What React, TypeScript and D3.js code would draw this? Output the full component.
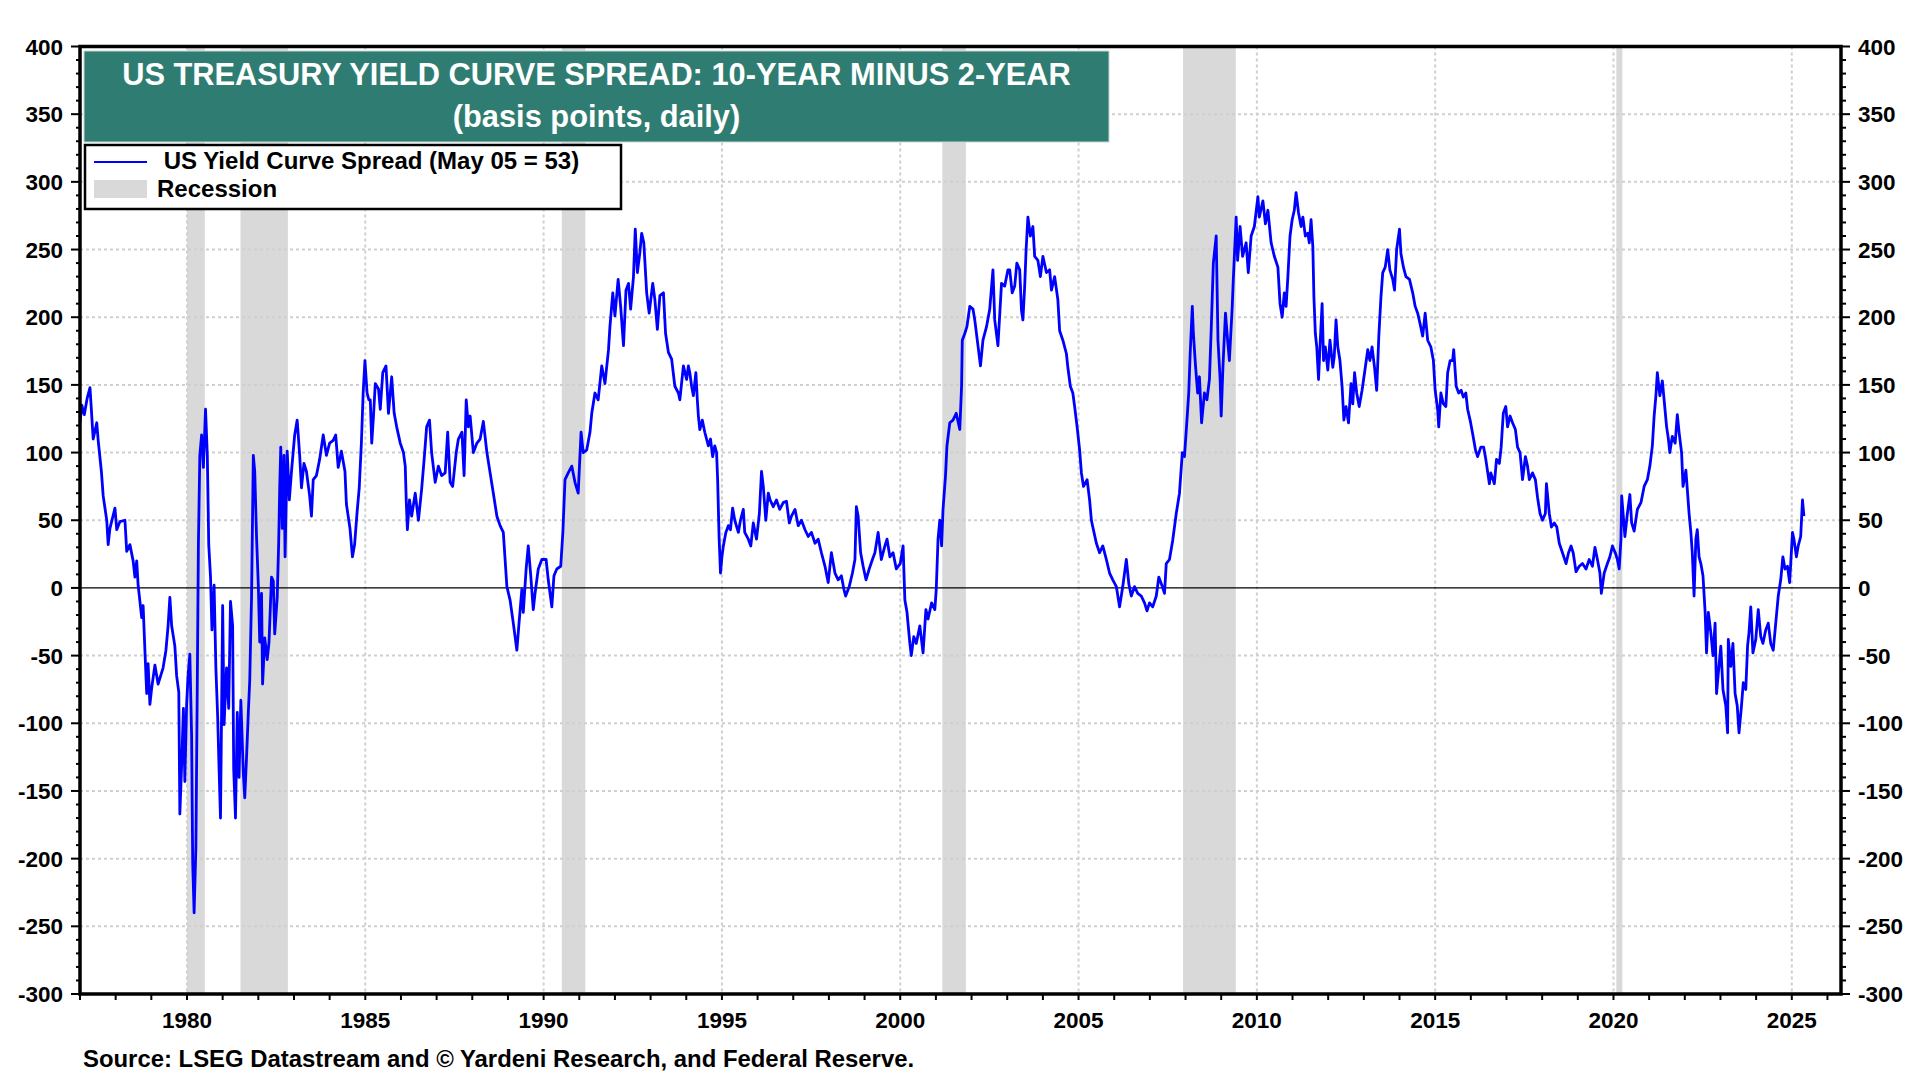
import React from "react";
import * as d3 from "d3";

// ---------- DATA ----------
const yTicks = [-300, -250, -200, -150, -100, -50, 0, 50, 100, 150, 200, 250, 300, 350, 400];
const xTickYears = [1980, 1985, 1990, 1995, 2000, 2005, 2010, 2015, 2020, 2025];

const recessions: [number, number][] = [
  [1980.0, 1980.5],
  [1981.5, 1982.83],
  [1990.51, 1991.17],
  [2001.18, 2001.84],
  [2007.93, 2009.41],
  [2020.08, 2020.25],
];

// [decimal year, spread in basis points]
const spread1977to1985: [number, number][] = [
  [1977.0, 122], [1977.05, 135], [1977.12, 128], [1977.2, 140], [1977.28, 148], [1977.37, 110], [1977.47, 122],
  [1977.51, 109], [1977.6, 86], [1977.65, 68], [1977.75, 50], [1977.79, 32], [1977.84, 44], [1977.98, 59],
  [1978.03, 43], [1978.12, 49], [1978.26, 50], [1978.31, 27], [1978.4, 32], [1978.49, 20], [1978.54, 8],
  [1978.59, 20], [1978.63, 2], [1978.68, -10], [1978.73, -22], [1978.77, -13], [1978.82, -46], [1978.87, -78],
  [1978.91, -56], [1978.96, -86], [1979.01, -74], [1979.1, -57], [1979.19, -71], [1979.33, -59], [1979.41, -46],
  [1979.47, -28], [1979.52, -7], [1979.57, -28], [1979.66, -43], [1979.71, -65], [1979.77, -77], [1979.8, -167],
  [1979.85, -131], [1979.9, -89], [1979.94, -143], [1979.99, -86], [1980.03, -65], [1980.08, -49], [1980.13, -110],
  [1980.16, -203], [1980.2, -240], [1980.25, -191], [1980.29, -68], [1980.32, 32], [1980.36, 98], [1980.41, 113],
  [1980.46, 89], [1980.52, 132], [1980.57, 98], [1980.61, 32], [1980.66, 8], [1980.7, -31], [1980.76, 2],
  [1980.81, -59], [1980.86, -95], [1980.9, -134], [1980.94, -170], [1981.0, -13], [1981.04, -101], [1981.11, -59],
  [1981.17, -89], [1981.22, -10], [1981.28, -28], [1981.31, -134], [1981.36, -170], [1981.41, -92], [1981.46, -140],
  [1981.51, -83], [1981.58, -137], [1981.62, -155], [1981.67, -125], [1981.72, -92], [1981.76, -68], [1981.81, -7],
  [1981.86, 98], [1981.9, 86], [1981.95, 38], [1982.0, 2], [1982.04, -40], [1982.09, -4], [1982.12, -71],
  [1982.18, -37], [1982.25, -53], [1982.3, -40], [1982.37, 8], [1982.42, 5], [1982.46, -34], [1982.53, -7],
  [1982.57, 32], [1982.6, 74], [1982.63, 104], [1982.67, 44], [1982.72, 98], [1982.75, 23], [1982.81, 101],
  [1982.87, 65], [1982.93, 86], [1982.98, 101], [1983.02, 113], [1983.09, 124], [1983.16, 98], [1983.21, 74],
  [1983.28, 92], [1983.35, 86], [1983.44, 68], [1983.49, 53], [1983.54, 80], [1983.63, 83], [1983.72, 95],
  [1983.82, 113], [1983.91, 98], [1984.0, 107], [1984.1, 109], [1984.17, 113], [1984.24, 89], [1984.33, 101],
  [1984.43, 86], [1984.47, 62], [1984.57, 44], [1984.64, 23], [1984.7, 32], [1984.77, 56], [1984.83, 74],
  [1984.89, 107], [1984.94, 144], [1984.99, 168], [1985.05, 144], [1985.1, 139],
];

const spread1985to1994: [number, number][] = [
  [1985.14, 139], [1985.18, 107], [1985.23, 127], [1985.28, 151], [1985.37, 147], [1985.42, 132], [1985.49, 159],
  [1985.58, 164], [1985.65, 129], [1985.74, 156], [1985.81, 129], [1985.88, 119], [1985.98, 107], [1986.07, 100],
  [1986.12, 90], [1986.15, 63], [1986.18, 43], [1986.24, 65], [1986.3, 53], [1986.4, 70], [1986.49, 50],
  [1986.58, 73], [1986.65, 95], [1986.72, 119], [1986.8, 124], [1986.86, 100], [1986.96, 78], [1987.05, 90],
  [1987.14, 83], [1987.24, 85], [1987.31, 115], [1987.38, 78], [1987.45, 75], [1987.55, 100], [1987.61, 110],
  [1987.71, 115], [1987.77, 83], [1987.83, 139], [1987.89, 119], [1987.94, 127], [1988.03, 100], [1988.13, 107],
  [1988.22, 110], [1988.31, 123], [1988.41, 100], [1988.5, 85], [1988.59, 70], [1988.69, 53], [1988.78, 46],
  [1988.87, 41], [1988.92, 21], [1988.97, 1], [1989.06, -9], [1989.15, -26], [1989.25, -46], [1989.32, -23],
  [1989.39, -1], [1989.43, -18], [1989.51, 14], [1989.57, 31], [1989.64, 9], [1989.71, -16], [1989.76, -4],
  [1989.85, 14], [1989.95, 21], [1990.07, 21], [1990.13, 6], [1990.23, -14], [1990.29, 9], [1990.37, 14],
  [1990.48, 16], [1990.54, 41], [1990.6, 80], [1990.69, 85], [1990.79, 90], [1990.88, 78], [1990.97, 70],
  [1991.05, 115], [1991.11, 100], [1991.21, 102], [1991.3, 115], [1991.35, 129], [1991.44, 144], [1991.53, 139],
  [1991.63, 164], [1991.72, 151], [1991.82, 176], [1991.86, 193], [1991.94, 218], [1992.0, 201], [1992.09, 228],
  [1992.16, 208], [1992.24, 179], [1992.31, 220], [1992.38, 225], [1992.44, 206], [1992.52, 230], [1992.57, 265],
  [1992.63, 233], [1992.7, 248], [1992.75, 262], [1992.81, 255], [1992.89, 218], [1992.96, 203], [1993.06, 225],
  [1993.12, 213], [1993.19, 191], [1993.26, 216], [1993.36, 218], [1993.42, 188], [1993.5, 174], [1993.59, 169],
  [1993.68, 149], [1993.78, 144], [1993.82, 139], [1993.92, 164], [1994.01, 154], [1994.06, 164],
];

const spread1994to2003: [number, number][] = [
  [1994.1, 159], [1994.15, 149], [1994.2, 142], [1994.27, 159], [1994.31, 139], [1994.34, 127], [1994.38, 117],
  [1994.45, 124], [1994.52, 115], [1994.62, 105], [1994.68, 110], [1994.74, 97], [1994.8, 105], [1994.85, 100],
  [1994.88, 80], [1994.92, 38], [1994.96, 11], [1995.0, 23], [1995.04, 31], [1995.11, 41], [1995.18, 46],
  [1995.24, 43], [1995.3, 59], [1995.36, 50], [1995.46, 41], [1995.52, 50], [1995.6, 58], [1995.64, 41],
  [1995.74, 36], [1995.81, 31], [1995.88, 48], [1995.97, 36], [1996.05, 55], [1996.11, 86], [1996.16, 75],
  [1996.23, 50], [1996.3, 70], [1996.35, 65], [1996.44, 60], [1996.53, 65], [1996.62, 58], [1996.72, 63],
  [1996.81, 64], [1996.89, 48], [1996.95, 53], [1997.05, 58], [1997.14, 46], [1997.23, 50], [1997.33, 43],
  [1997.42, 38], [1997.51, 41], [1997.61, 33], [1997.7, 36], [1997.79, 26], [1997.89, 16], [1997.98, 4],
  [1998.07, 26], [1998.17, 11], [1998.26, 6], [1998.35, 9], [1998.42, -1], [1998.47, -6], [1998.57, 1],
  [1998.66, 11], [1998.73, 21], [1998.77, 60], [1998.82, 53], [1998.89, 26], [1998.96, 16], [1999.04, 6],
  [1999.13, 14], [1999.22, 21], [1999.29, 26], [1999.38, 41], [1999.47, 21], [1999.57, 31], [1999.63, 36],
  [1999.71, 23], [1999.8, 26], [1999.89, 14], [2000.0, 18], [2000.08, 31], [2000.13, -9], [2000.19, -18],
  [2000.27, -41], [2000.31, -50], [2000.38, -36], [2000.45, -41], [2000.55, -28], [2000.64, -48], [2000.72, -16],
  [2000.78, -23], [2000.88, -11], [2000.97, -16], [2001.01, -1], [2001.06, 36], [2001.11, 50], [2001.16, 31],
  [2001.2, 58], [2001.27, 83], [2001.31, 105], [2001.39, 122], [2001.48, 124], [2001.57, 129], [2001.67, 117],
  [2001.72, 149], [2001.74, 183], [2001.81, 188], [2001.87, 193], [2001.95, 208], [2002.04, 206], [2002.09, 198],
  [2002.18, 179], [2002.25, 164], [2002.32, 183], [2002.42, 193], [2002.51, 206], [2002.6, 235], [2002.65, 198],
  [2002.74, 179], [2002.84, 225], [2002.93, 223], [2003.02, 235],
];

const spread2003to2011: [number, number][] = [
  [2003.07, 235], [2003.14, 218], [2003.21, 223], [2003.27, 240], [2003.35, 235], [2003.4, 205], [2003.44, 198],
  [2003.49, 223], [2003.53, 250], [2003.58, 274], [2003.65, 260], [2003.72, 267], [2003.77, 245], [2003.86, 242],
  [2003.93, 230], [2004.0, 245], [2004.1, 233], [2004.19, 235], [2004.24, 220], [2004.33, 230], [2004.42, 213],
  [2004.47, 190], [2004.56, 183], [2004.66, 173], [2004.7, 163], [2004.77, 149], [2004.84, 144], [2004.89, 134],
  [2004.96, 119], [2005.03, 102], [2005.08, 85], [2005.14, 75], [2005.24, 80], [2005.31, 65], [2005.36, 50],
  [2005.4, 45], [2005.5, 33], [2005.59, 26], [2005.68, 31], [2005.78, 21], [2005.87, 11], [2005.96, 6],
  [2006.06, 1], [2006.15, -14], [2006.24, 1], [2006.34, 21], [2006.41, 3], [2006.48, -6], [2006.57, 1],
  [2006.66, -4], [2006.76, -6], [2006.85, -11], [2006.92, -17], [2006.99, -11], [2007.08, -14], [2007.18, -6],
  [2007.25, 8], [2007.35, 1], [2007.41, -4], [2007.46, 18], [2007.55, 21], [2007.64, 35], [2007.74, 55],
  [2007.83, 70], [2007.91, 100], [2007.97, 97], [2008.04, 124], [2008.09, 144], [2008.13, 173], [2008.19, 208],
  [2008.22, 188], [2008.28, 164], [2008.34, 144], [2008.39, 156], [2008.45, 122], [2008.53, 144], [2008.6, 139],
  [2008.67, 154], [2008.72, 191], [2008.78, 240], [2008.86, 260], [2008.91, 183], [2008.97, 154], [2009.0, 127],
  [2009.05, 164], [2009.12, 203], [2009.18, 183], [2009.23, 168], [2009.31, 208], [2009.34, 228], [2009.42, 274],
  [2009.46, 242], [2009.53, 267], [2009.6, 245], [2009.7, 255], [2009.76, 233], [2009.84, 260], [2009.93, 267],
  [2010.03, 289], [2010.07, 274], [2010.17, 286], [2010.24, 269], [2010.31, 279], [2010.4, 255], [2010.49, 245],
  [2010.59, 237], [2010.65, 210], [2010.71, 200], [2010.77, 218], [2010.82, 208], [2010.87, 230], [2010.93, 260],
  [2010.99, 272], [2011.05, 279], [2011.1, 292], [2011.17, 277],
];

const spread2011to2019: [number, number][] = [
  [2011.24, 267], [2011.29, 274], [2011.36, 260], [2011.43, 262], [2011.47, 255], [2011.52, 272], [2011.57, 252],
  [2011.6, 215], [2011.64, 188], [2011.68, 178], [2011.73, 154], [2011.77, 178], [2011.83, 210], [2011.87, 168],
  [2011.92, 178], [2011.99, 161], [2012.05, 183], [2012.13, 163], [2012.17, 171], [2012.22, 198], [2012.27, 178],
  [2012.33, 168], [2012.39, 149], [2012.44, 124], [2012.5, 134], [2012.57, 122], [2012.64, 151], [2012.69, 136],
  [2012.74, 159], [2012.8, 144], [2012.87, 134], [2012.95, 146], [2013.02, 159], [2013.11, 176], [2013.17, 168],
  [2013.23, 178], [2013.3, 163], [2013.36, 146], [2013.42, 186], [2013.48, 215], [2013.53, 233], [2013.6, 237],
  [2013.67, 250], [2013.73, 235], [2013.81, 228], [2013.86, 220], [2013.92, 250], [2014.0, 265], [2014.04, 247],
  [2014.11, 237], [2014.18, 230], [2014.28, 228], [2014.37, 218], [2014.44, 208], [2014.51, 203], [2014.57, 196],
  [2014.65, 186], [2014.72, 203], [2014.79, 183], [2014.88, 178], [2014.95, 168], [2015.0, 146], [2015.07, 132],
  [2015.1, 119], [2015.16, 144], [2015.23, 136], [2015.3, 134], [2015.35, 159], [2015.42, 168], [2015.49, 168],
  [2015.52, 176], [2015.59, 149], [2015.66, 144], [2015.73, 146], [2015.79, 141], [2015.86, 144], [2015.91, 132],
  [2015.98, 124], [2016.05, 114], [2016.13, 102], [2016.19, 97], [2016.28, 104], [2016.36, 104], [2016.42, 95],
  [2016.52, 77], [2016.56, 85], [2016.66, 77], [2016.72, 95], [2016.8, 92], [2016.85, 104], [2016.91, 129],
  [2016.98, 134], [2017.03, 119], [2017.1, 127], [2017.17, 122], [2017.25, 117], [2017.31, 104], [2017.38, 100],
  [2017.45, 80], [2017.53, 97], [2017.59, 90], [2017.64, 80], [2017.73, 85], [2017.81, 80], [2017.87, 67],
  [2017.94, 55], [2018.01, 50], [2018.09, 55], [2018.12, 77], [2018.2, 55], [2018.26, 45], [2018.34, 48],
  [2018.41, 45], [2018.48, 33], [2018.57, 26], [2018.67, 18], [2018.74, 26], [2018.81, 31], [2018.87, 26],
  [2018.95, 12],
];

const spread2019to2025: [number, number][] = [
  [2019.04, 16], [2019.13, 18], [2019.23, 14], [2019.32, 21], [2019.41, 16], [2019.48, 30], [2019.55, 21],
  [2019.62, 11], [2019.66, -4], [2019.74, 11], [2019.83, 18], [2019.9, 23], [2019.97, 31], [2020.05, 26],
  [2020.11, 21], [2020.16, 14], [2020.21, 36], [2020.23, 68], [2020.27, 55], [2020.32, 38], [2020.39, 55],
  [2020.46, 69], [2020.51, 48], [2020.58, 42], [2020.67, 58], [2020.77, 63], [2020.86, 75], [2020.95, 80],
  [2021.02, 90], [2021.09, 105], [2021.14, 127], [2021.19, 142], [2021.23, 159], [2021.3, 142], [2021.37, 153],
  [2021.42, 139], [2021.49, 119], [2021.54, 110], [2021.58, 100], [2021.65, 112], [2021.73, 107], [2021.79, 128],
  [2021.84, 115], [2021.91, 100], [2021.95, 75], [2022.03, 87], [2022.07, 73], [2022.12, 55], [2022.17, 41],
  [2022.21, 26], [2022.26, -6], [2022.31, 36], [2022.35, 43], [2022.4, 23], [2022.45, 18], [2022.51, 9],
  [2022.57, -18], [2022.61, -48], [2022.66, -18], [2022.73, -33], [2022.79, -50], [2022.85, -26], [2022.89, -78],
  [2022.94, -63], [2023.01, -43], [2023.07, -75], [2023.15, -87], [2023.2, -107], [2023.22, -38], [2023.29, -58],
  [2023.35, -41], [2023.41, -78], [2023.47, -87], [2023.52, -107], [2023.59, -87], [2023.64, -70], [2023.71, -75],
  [2023.76, -43], [2023.8, -33], [2023.85, -14], [2023.91, -48], [2023.99, -38], [2024.06, -16], [2024.13, -36],
  [2024.19, -41], [2024.27, -31], [2024.34, -26], [2024.41, -41], [2024.48, -46], [2024.55, -26], [2024.62, -6],
  [2024.69, 6], [2024.75, 23], [2024.81, 14], [2024.88, 16], [2024.94, 4], [2025.02, 41], [2025.06, 36],
  [2025.13, 23], [2025.18, 31], [2025.25, 38], [2025.3, 65], [2025.34, 53],
];

const titleLine1 = "US TREASURY YIELD CURVE SPREAD: 10-YEAR MINUS 2-YEAR";
const titleLine2 = "(basis points, daily)";
const legendSeries = " US Yield Curve Spread (May 05 = 53)";
const legendRecession = "Recession";
const sourceText = "Source: LSEG Datastream and \u00A9 Yardeni Research, and Federal Reserve.";

// ---------- STYLE ----------
const FONT = "'Liberation Sans', Arial, Helvetica, sans-serif";
const LINE_BLUE = "#0000ff";
const TEAL = "#2f7d72";
const RECESSION_GRAY = "#d9d9d9";
const GRID_GRAY = "#cfcfcf";

export default function App() {
  const W = 1920;
  const H = 1080;
  const left = 80;
  const right = 1841;
  const top = 46.5;
  const bottom = 994;

  const x = d3.scaleLinear().domain([1977, 2026.38]).range([left, right]);
  const y = d3.scaleLinear().domain([-300, 400]).range([bottom, top]);

  const allData = [
    ...spread1977to1985,
    ...spread1985to1994,
    ...spread1994to2003,
    ...spread2003to2011,
    ...spread2011to2019,
    ...spread2019to2025,
  ];
  const line = d3
    .line<[number, number]>()
    .x((d) => x(d[0]))
    .y((d) => y(d[1]));

  const minorY = d3.range(-300, 401, 10);
  const yearTicks = d3.range(1977, 2027, 1);

  return (
    <div style={{ position: "absolute", left: 0, top: 0, width: W, height: H, background: "#fff" }}>
      <svg width={W} height={H} viewBox={`0 0 ${W} ${H}`} style={{ display: "block", fontFamily: FONT }}>
        <rect x={0} y={0} width={W} height={H} fill="#fff" />

        {/* recession bands */}
        {recessions.map(([a, b], i) => (
          <rect key={"r" + i} x={x(a)} y={top} width={x(b) - x(a)} height={bottom - top} fill={RECESSION_GRAY} />
        ))}

        {/* grid */}
        {yTicks
          .filter((v) => v !== 0 && v !== -300 && v !== 400)
          .map((v) => (
            <line key={"gy" + v} x1={left} x2={right} y1={y(v)} y2={y(v)} stroke={GRID_GRAY} strokeWidth={2} strokeDasharray="3,3" />
          ))}
        {xTickYears.map((yr) => (
          <line key={"gx" + yr} x1={x(yr)} x2={x(yr)} y1={top} y2={bottom} stroke={GRID_GRAY} strokeWidth={2} strokeDasharray="3,3" />
        ))}

        {/* zero line */}
        <line x1={left} x2={right} y1={y(0)} y2={y(0)} stroke="#000" strokeWidth={1.2} />

        {/* data line */}
        <path d={line(allData) || ""} fill="none" stroke={LINE_BLUE} strokeWidth={2.8} strokeLinejoin="round" />

        {/* frame */}
        <rect x={left} y={top} width={right - left} height={bottom - top} fill="none" stroke="#000" strokeWidth={3.5} />

        {/* left & right ticks */}
        {minorY.map((v) => {
          const major = v % 50 === 0;
          return (
            <g key={"ty" + v}>
              <line x1={left - (major ? 9 : 4)} x2={left} y1={y(v)} y2={y(v)} stroke="#000" strokeWidth={2} />
              <line x1={right} x2={right + (major ? 9 : 5)} y1={y(v)} y2={y(v)} stroke="#000" strokeWidth={2} />
            </g>
          );
        })}
        {yearTicks.map((yr) => (
          <line key={"tx" + yr} x1={x(yr)} x2={x(yr)} y1={bottom} y2={bottom + 6} stroke="#000" strokeWidth={2} />
        ))}

        {/* y labels */}
        {yTicks.map((v) => (
          <text key={"ly" + v} x={63} y={y(v)} dy="0.36em" textAnchor="end" fontSize={22.5} fontWeight="bold" fill="#000">
            {v}
          </text>
        ))}
        {yTicks.map((v) => (
          <text key={"ry" + v} x={1858} y={y(v)} dy="0.36em" textAnchor="start" fontSize={22.5} fontWeight="bold" fill="#000">
            {v}
          </text>
        ))}
        {/* x labels */}
        {xTickYears.map((yr) => (
          <text key={"lx" + yr} x={x(yr)} y={1028} textAnchor="middle" fontSize={22.5} fontWeight="bold" fill="#000">
            {yr}
          </text>
        ))}

        {/* title box */}
        <rect x={84} y={51} width={1025} height={91} fill={TEAL} stroke="#c8d8d4" strokeWidth={1} />
        <text x={596.5} y={85} textAnchor="middle" fontSize={30.8} fontWeight="bold" fill="#fff">
          {titleLine1}
        </text>
        <text x={596.5} y={127} textAnchor="middle" fontSize={30.8} fontWeight="bold" fill="#fff">
          {titleLine2}
        </text>

        {/* legend */}
        <rect x={85} y={145} width={536} height={64} fill="#fff" stroke="#000" strokeWidth={2.5} />
        <line x1={94} x2={147} y1={162} y2={162} stroke={LINE_BLUE} strokeWidth={2} />
        <text x={157} y={169} fontSize={24} fontWeight="bold" fill="#000" style={{ whiteSpace: "pre" }}>
          {legendSeries}
        </text>
        <rect x={94} y={180} width={53} height={18} fill={RECESSION_GRAY} />
        <text x={157} y={197} fontSize={24} fontWeight="bold" fill="#000">
          {legendRecession}
        </text>

        {/* source */}
        <text x={83} y={1067} fontSize={23.9} fontWeight="bold" fill="#000">
          {sourceText}
        </text>
      </svg>
    </div>
  );
}
